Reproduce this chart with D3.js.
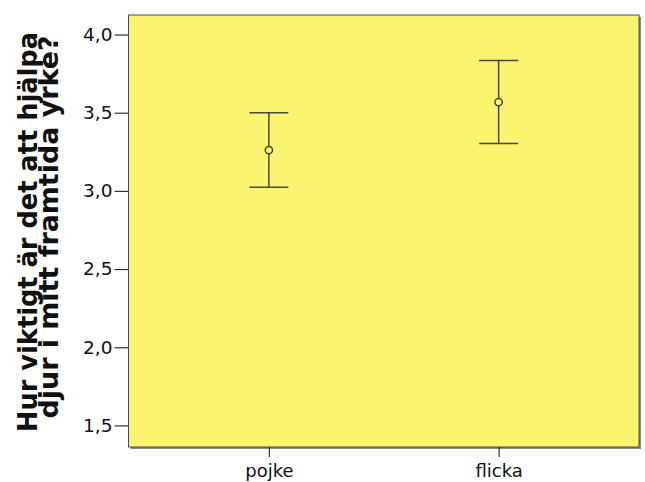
<!DOCTYPE html>
<html>
<head>
<meta charset="utf-8">
<script src="https://cdn.jsdelivr.net/npm/d3@7"></script>
<style>
  html, body { margin: 0; padding: 0; background: #ffffff; }
  svg { display: block; }
</style>
</head>
<body>
<script>
// Mean with 95% confidence interval per group
const categories = ["pojke", "flicka"];
const means = [3.261, 3.568];
const lowerCI = [3.024, 3.303];
const upperCI = [3.500, 3.834];
const yTicks = [1.5, 2.0, 2.5, 3.0, 3.5, 4.0];
const yTitleLines = ["Hur viktigt är det att hjälpa", "djur i mitt framtida yrke?"];

const W = 645, H = 482;
const plot = { left: 128.5, right: 639, top: 15, bottom: 447 };

const svg = d3.select("body").append("svg")
  .attr("width", W).attr("height", H);

const x = d3.scalePoint()
  .domain(categories)
  .range([plot.left, plot.right])
  .padding(0.611);

const y = d3.scaleLinear()
  .domain([1.362, 4.125])
  .range([plot.bottom, plot.top]);

// drop shadow on right and bottom edges of the plot frame
svg.append("path")
  .attr("d", `M${plot.right + 1},${plot.top + 2} V${plot.bottom + 1} H${plot.left + 2}`)
  .attr("fill", "none")
  .attr("stroke", "#8a8a8a")
  .attr("stroke-width", 2);

// plot background
svg.append("rect")
  .attr("x", plot.left).attr("y", plot.top)
  .attr("width", plot.right - plot.left)
  .attr("height", plot.bottom - plot.top)
  .attr("fill", "#faf56e")
  .attr("stroke", "#4a4a4a")
  .attr("stroke-width", 1);

// y axis
const yAxis = d3.axisLeft(y)
  .tickValues(yTicks)
  .tickSize(14)
  .tickPadding(2)
  .tickFormat(d => d3.format(".1f")(d).replace(".", ","));

const gy = svg.append("g")
  .attr("transform", `translate(${plot.left},0)`)
  .call(yAxis);
gy.select(".domain").remove();
gy.selectAll(".tick line").attr("stroke", "#333").attr("stroke-width", 1.2);
gy.selectAll(".tick text")
  .attr("fill", "#111")
  .style("font-family", "'DejaVu Sans', sans-serif")
  .style("font-size", "18.5px");

// x axis
const xAxis = d3.axisBottom(x).tickSize(10).tickPadding(7);
const gx = svg.append("g")
  .attr("transform", `translate(0,${plot.bottom})`)
  .call(xAxis);
gx.select(".domain").remove();
gx.selectAll(".tick line").attr("stroke", "#333").attr("stroke-width", 1.2);
gx.selectAll(".tick text")
  .attr("fill", "#111")
  .style("font-family", "'DejaVu Sans', sans-serif")
  .style("font-size", "18px");

// y axis title, two lines, rotated
const titleX = [37, 58];
const titleCenters = [232, 227];
const titleLengths = [400, 383];
yTitleLines.forEach((line, i) => {
  svg.append("text")
    .attr("transform", `translate(${titleX[i]},${titleCenters[i]}) rotate(-90)`)
    .attr("text-anchor", "middle")
    .attr("textLength", titleLengths[i])
    .attr("lengthAdjust", "spacingAndGlyphs")
    .attr("fill", "#111")
    .style("font-family", "'DejaVu Sans', sans-serif")
    .style("font-weight", "bold")
    .style("font-size", "26px")
    .text(line);
});

// error bars
const capHalf = 19.5;
const ink = "rgba(40,40,40,0.85)";
const groups = svg.append("g").selectAll("g")
  .data(categories.map((c, i) => ({ c, m: means[i], lo: lowerCI[i], hi: upperCI[i] })))
  .join("g");

groups.append("line")
  .attr("x1", d => x(d.c)).attr("x2", d => x(d.c))
  .attr("y1", d => y(d.hi)).attr("y2", d => y(d.lo))
  .attr("stroke", ink).attr("stroke-width", 1.5);

groups.append("line")
  .attr("x1", d => x(d.c) - capHalf).attr("x2", d => x(d.c) + capHalf)
  .attr("y1", d => y(d.hi)).attr("y2", d => y(d.hi))
  .attr("stroke", ink).attr("stroke-width", 1.5);

groups.append("line")
  .attr("x1", d => x(d.c) - capHalf).attr("x2", d => x(d.c) + capHalf)
  .attr("y1", d => y(d.lo)).attr("y2", d => y(d.lo))
  .attr("stroke", ink).attr("stroke-width", 1.5);

groups.append("circle")
  .attr("cx", d => x(d.c)).attr("cy", d => y(d.m))
  .attr("r", 3.7)
  .attr("fill", "#faf56e")
  .attr("stroke", ink).attr("stroke-width", 1.5);
</script>
</body>
</html>
